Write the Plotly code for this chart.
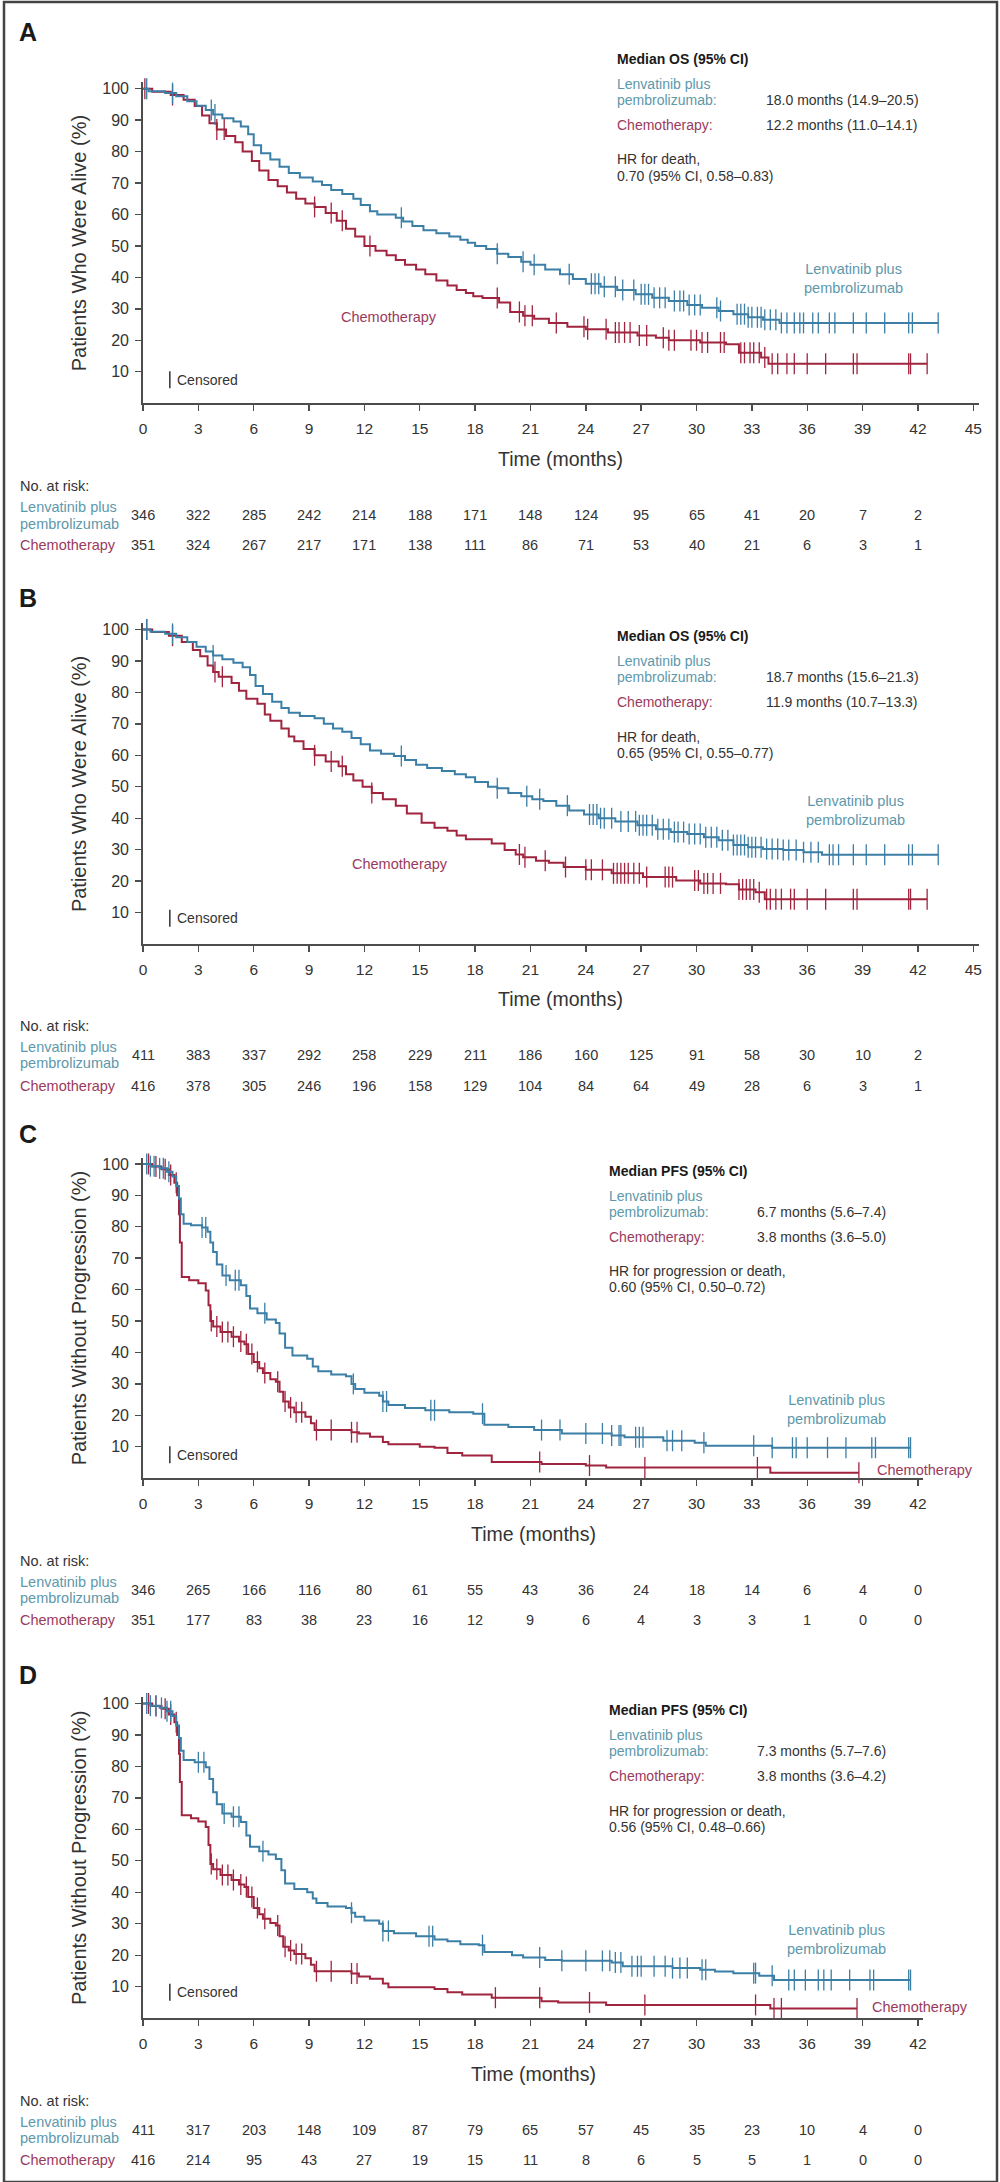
import numpy as np
import plotly.graph_objects as go

W, H = 1000, 2182
FONT = "Liberation Sans, Arial, Helvetica, sans-serif"
BLUE = "#3b7ea6"
RED = "#a1243f"
BLUE_TXT = "#5d98ab"
RED_TXT = "#9a3a5c"
DARK = "#333333"
AXIS = "#4d4d4d"

# ---------------- data ----------------
os_ticks = [0, 3, 6, 9, 12, 15, 18, 21, 24, 27, 30, 33, 36, 39, 42, 45]
pfs_ticks = [0, 3, 6, 9, 12, 15, 18, 21, 24, 27, 30, 33, 36, 39, 42]
risk_times = [0, 3, 6, 9, 12, 15, 18, 21, 24, 27, 30, 33, 36, 39, 42]
y_ticks = [10, 20, 30, 40, 50, 60, 70, 80, 90, 100]

# Panel A (OS, pMMR)
a_lenv_t = [0, 0.3, 1.2, 1.8, 2.4, 2.9, 3.4, 3.8, 4.3, 4.9, 5.3, 5.7, 6.0, 6.4, 6.9, 7.4, 7.9, 8.5, 9.2, 9.7,
            10.2, 10.8, 11.4, 11.8, 12.3, 12.7, 13.7, 14.1, 14.6, 15.2, 15.9, 16.6, 17.2, 17.6, 18.0, 18.6,
            19.2, 19.8, 20.5, 21.0, 21.8, 22.6, 23.3, 24.0, 24.8, 25.7, 26.7, 27.6, 28.5, 29.5, 30.3, 31.2,
            32.0, 32.8, 33.6, 34.5, 43.1]
a_lenv_s = [100, 99.2, 98.6, 97.6, 96, 94.6, 93.2, 91.8, 90.6, 89.6, 88, 85.5, 82, 79.5, 77.5, 75.2, 73.2, 71.8,
            70.5, 69.4, 67.8, 66.5, 65, 63, 61, 60, 59, 57.8, 56.3, 55, 54, 53, 52, 51, 50, 49, 47.5, 46.5, 45,
            44, 42.5, 41, 39.5, 38, 37, 36, 34.6, 33.5, 32.5, 31.2, 30.3, 29.3, 28.3, 27.3, 26.5, 25.5, 25.5]
a_chemo_t = [0, 0.5, 1.5, 2.2, 2.8, 3.2, 3.6, 4.0, 4.5, 5.0, 5.4, 5.9, 6.3, 6.8, 7.3, 7.8, 8.3, 8.8, 9.3, 9.9,
             10.5, 11.0, 11.5, 12.0, 12.6, 13.2, 13.7, 14.2, 14.8, 15.3, 15.9, 16.5, 17.0, 17.5, 17.9, 18.4,
             19.3, 19.9, 20.6, 21.2, 22.0, 23.0, 24.0, 25.2, 26.8, 27.8, 28.5, 30.2, 31.6, 32.3, 33.5, 33.9, 42.5]
a_chemo_s = [100, 99, 98, 96.5, 94.5, 91.5, 89, 87, 85, 83, 80, 77, 74, 71, 69, 67, 65, 63.5, 62.4, 60.5, 58,
             55.5, 53, 50, 48.5, 47, 45.5, 44, 42.5, 41, 39, 37.4, 36, 35, 34, 33.4, 32, 29, 27.8, 26.8, 25.5,
             24.3, 23.5, 22.5, 21.5, 20.8, 20, 19.3, 18.7, 16, 14.5, 12.5, 12.5]
a_lenv_cens = [0.2, 1.6, 3.7, 3.9, 14.0, 19.2, 20.6, 21.2, 23.1, 24.3, 24.5, 24.7, 25.0, 25.6, 26.0, 26.6, 27.0,
               27.2, 27.4, 27.7, 28.0, 28.3, 28.8, 29.1, 29.3, 29.6, 29.9, 30.2, 31.1, 31.3, 32.2, 32.4, 32.6,
               32.8, 33.0, 33.3, 33.5, 33.7, 34.0, 34.3, 34.6, 34.9, 35.3, 35.6, 35.8, 36.3, 36.6, 37.2, 37.5,
               38.5, 39.2, 40.2, 41.5, 41.7, 43.1]
a_chemo_cens = [0.1, 1.6, 4.0, 4.4, 9.3, 10.2, 10.8, 12.3, 19.2, 20.4, 20.7, 21.1, 22.4, 23.9, 24.1, 25.1,
                25.6, 25.8, 26.1, 26.4, 26.9, 27.3, 28.2, 28.5, 28.8, 29.7, 30.0, 30.3, 30.6, 31.3, 31.5, 32.4,
                32.6, 32.9, 33.1, 33.4, 33.7, 34.1, 34.4, 34.9, 35.3, 36.0, 37.0, 38.5, 38.7, 41.5, 41.6, 42.5]
a_risk_lenv = [346, 322, 285, 242, 214, 188, 171, 148, 124, 95, 65, 41, 20, 7, 2]
a_risk_chemo = [351, 324, 267, 217, 171, 138, 111, 86, 71, 53, 40, 21, 6, 3, 1]

# Panel B (OS, all-comers)
b_lenv_t = [0, 0.4, 1.2, 1.8, 2.4, 2.9, 3.4, 3.8, 4.3, 4.9, 5.4, 5.8, 6.1, 6.5, 7.0, 7.5, 7.9, 8.5, 9.3, 9.8,
            10.3, 10.8, 11.3, 11.8, 12.3, 12.9, 13.6, 14.2, 14.8, 15.4, 16.2, 16.9, 17.5, 18.0, 18.7, 19.2,
            19.8, 20.5, 21.1, 21.7, 22.4, 23.1, 23.9, 24.7, 25.6, 26.8, 27.8, 28.6, 29.5, 30.4, 31.2, 32.0,
            32.8, 33.6, 34.7, 35.8, 36.8, 43.1]
b_lenv_s = [100, 99.3, 98.6, 97.5, 96, 94.5, 93, 91.7, 90.5, 89.4, 88, 85.5, 82, 79.5, 77, 75, 73.5, 72.5, 71.8,
            70, 68.5, 67.5, 65.5, 63.5, 61.5, 60.5, 59.8, 58.5, 57, 56, 55, 54, 53, 51.5, 50, 49.5, 48, 47, 46,
            45.5, 44, 42.5, 41.2, 40, 39, 37.8, 36.5, 35.6, 35, 34, 33, 31.5, 30.8, 30.2, 29.9, 29.2, 28.4, 28.4]
b_chemo_t = [0, 0.5, 1.4, 2.1, 2.7, 3.1, 3.5, 3.8, 4.1, 4.8, 5.2, 5.6, 6.2, 6.6, 6.9, 7.5, 7.9, 8.2, 8.7, 9.3,
             9.9, 10.6, 11.0, 11.4, 11.9, 12.4, 13.0, 13.7, 14.3, 15.1, 15.8, 16.5, 17.0, 17.5, 18.9, 19.6,
             20.2, 20.6, 21.3, 22.0, 22.8, 24.0, 25.4, 27.1, 28.9, 30.2, 31.6, 32.3, 33.2, 33.7, 42.5]
b_chemo_s = [100, 99.2, 98, 96, 93.5, 91.5, 88.5, 86.5, 85, 83, 80.5, 78, 76.4, 73, 71, 68.5, 66, 64.5, 62, 60,
             58, 56.5, 54, 52, 50, 48, 46, 44, 41.5, 38.6, 37, 36, 34.5, 33.3, 32, 29.9, 28.5, 27.6, 26.5, 25.9,
             24.5, 23.6, 22.5, 21.3, 20.2, 19.3, 19.0, 17.4, 16.5, 14.3, 14.3]
b_lenv_cens = [0.2, 1.6, 3.8, 14.0, 19.2, 20.8, 21.5, 23.0, 24.2, 24.4, 24.6, 24.8, 25.0, 25.4, 25.9, 26.3, 26.7,
               26.9, 27.1, 27.3, 27.6, 27.9, 28.2, 28.5, 28.8, 29.0, 29.3, 29.6, 29.9, 30.2, 30.5, 30.8, 31.1,
               31.4, 31.7, 32.0, 32.2, 32.4, 32.6, 32.8, 33.0, 33.2, 33.5, 33.8, 34.1, 34.4, 34.7, 35.0, 35.4,
               35.8, 36.2, 36.6, 37.2, 37.4, 37.7, 38.5, 39.2, 40.2, 41.5, 41.7, 43.1]
b_chemo_cens = [0.2, 1.6, 3.9, 4.3, 9.3, 10.2, 10.8, 12.4, 20.4, 20.7, 21.8, 22.9, 24.0, 24.3, 24.9, 25.5, 25.7,
                25.9, 26.1, 26.3, 26.6, 26.9, 27.3, 28.3, 28.5, 28.7, 29.9, 30.1, 30.4, 30.6, 30.9, 31.3, 32.3,
                32.5, 32.7, 32.9, 33.1, 33.4, 33.8, 34.0, 34.3, 34.6, 35.1, 35.3, 36.0, 37.0, 38.5, 38.7, 41.5,
                41.6, 42.5]
b_risk_lenv = [411, 383, 337, 292, 258, 229, 211, 186, 160, 125, 91, 58, 30, 10, 2]
b_risk_chemo = [416, 378, 305, 246, 196, 158, 129, 104, 84, 64, 49, 28, 6, 3, 1]

# Panel C (PFS, pMMR)
c_lenv_t = [0, 0.4, 0.9, 1.3, 1.6, 1.8, 1.95, 2.05, 2.2, 2.6, 3.2, 3.5, 3.65, 3.8, 4.0, 4.3, 4.7, 5.3, 5.6, 5.8,
            6.2, 6.7, 7.2, 7.4, 7.7, 8.1, 8.9, 9.2, 9.5, 10.2, 11.0, 11.3, 11.5, 12.0, 12.8, 13.0, 13.3, 14.2,
            15.3, 16.6, 17.9, 18.5, 19.8, 21.2, 22.7, 25.4, 26.1, 28.2, 29.9, 30.5, 34.1, 41.6]
c_lenv_s = [100, 99.3, 98.6, 97.5, 96, 93, 89, 84, 81, 80.5, 79.8, 78.4, 75, 72, 68, 64.5, 63, 61.4, 58, 54,
            52.5, 50.5, 49.4, 46, 41.5, 39, 38, 35.5, 34, 33, 32.4, 30, 28.4, 27.2, 26.2, 24.4, 23.3, 22.3, 21.6,
            21.0, 20.5, 17, 16.3, 15.3, 14.2, 13.6, 13.0, 11.9, 11.3, 10.3, 9.7, 9.7]
c_chemo_t = [0, 0.5, 1.0, 1.4, 1.7, 1.85, 1.95, 2.0, 2.1, 2.5, 3.0, 3.4, 3.55, 3.65, 3.8, 4.2, 4.8, 5.2, 5.5,
             5.7, 6.0, 6.3, 6.5, 6.9, 7.2, 7.4, 7.6, 7.9, 8.2, 8.8, 9.1, 9.3, 11.3, 11.7, 12.3, 13.0, 13.3,
             15.0, 15.8, 16.5, 17.3, 18.9, 21.6, 24.0, 25.1, 34.0, 38.8]
c_chemo_s = [100, 99.2, 98.3, 96.5, 94, 90, 84, 75, 64, 63, 62, 59.7, 55, 50, 48.3, 46.5, 45, 43.5, 42.6, 39.5,
             37, 35, 33.5, 31.5, 30.7, 27.5, 24.4, 22.5, 21, 19.5, 17.5, 15.3, 14.6, 14.2, 13.2, 11.5, 10.8,
             10.0, 9.7, 8.0, 7.2, 5.1, 4.5, 4.0, 3.4, 1.7, 1.7]
c_lenv_cens = [0.2, 0.4, 0.6, 0.9, 1.1, 1.4, 3.2, 3.4, 4.5, 5.0, 5.2, 6.6, 11.4, 13.0, 13.2, 15.6, 15.8, 18.4,
               21.6, 22.6, 24.0, 24.9, 25.4, 25.8, 25.9, 26.7, 26.9, 27.1, 28.4, 28.7, 29.2, 30.4, 33.1, 34.1,
               35.2, 35.4, 36.0, 37.1, 38.1, 39.5, 39.7, 41.5, 41.6]
c_chemo_cens = [0.3, 0.7, 1.2, 1.5, 1.8, 3.7, 4.0, 4.3, 4.6, 4.9, 5.3, 5.6, 5.9, 6.2, 6.6, 7.3, 7.7, 8.0, 8.3,
                8.6, 9.4, 10.2, 11.3, 11.6, 21.5, 24.2, 27.2, 33.3, 38.8]
c_risk_lenv = [346, 265, 166, 116, 80, 61, 55, 43, 36, 24, 18, 14, 6, 4, 0]
c_risk_chemo = [351, 177, 83, 38, 23, 16, 12, 9, 6, 4, 3, 3, 1, 0, 0]

# Panel D (PFS, all-comers)
d_lenv_t = [0, 0.4, 0.9, 1.3, 1.6, 1.8, 1.95, 2.05, 2.2, 2.8, 3.4, 3.6, 3.8, 4.0, 4.3, 4.8, 5.3, 5.6, 5.8, 6.3,
            6.8, 7.2, 7.5, 7.7, 8.2, 8.9, 9.2, 9.4, 10.0, 11.0, 11.3, 11.5, 12.0, 12.8, 13.0, 13.6, 14.8, 15.8,
            16.5, 17.2, 18.2, 18.5, 20.0, 20.6, 21.8, 22.7, 25.4, 26.0, 28.7, 30.2, 31.0, 32.0, 33.4, 34.2, 41.6]
d_lenv_s = [100, 99.3, 98.6, 97.5, 96, 93, 89, 85, 82, 81.3, 79.7, 76, 71.8, 68, 65, 64, 62.3, 58, 54.5, 53, 52,
            50.6, 47, 42.8, 41, 40, 38, 36.6, 35.5, 35, 33.5, 32.2, 31, 30, 27.7, 27, 26, 25, 24.4, 23.5, 23.2,
            21, 20, 19.3, 18.5, 18.2, 17.7, 16.5, 15.9, 15.4, 14.8, 14.3, 13.5, 12.1, 12.1]
d_chemo_t = [0, 0.5, 1.0, 1.4, 1.7, 1.85, 1.95, 2.0, 2.1, 2.6, 3.0, 3.4, 3.55, 3.65, 3.8, 4.2, 4.8, 5.2, 5.5,
             5.7, 6.0, 6.3, 6.5, 6.9, 7.2, 7.4, 7.6, 7.9, 8.2, 8.8, 9.1, 9.3, 11.3, 11.7, 12.3, 13.0, 13.3,
             15.8, 16.5, 17.3, 18.9, 21.6, 22.5, 25.1, 34.0, 38.7]
d_chemo_s = [100, 99.2, 98.3, 96.5, 94, 90, 84, 75, 64.5, 63.5, 62.5, 60.7, 55, 49, 47.3, 45.5, 43.9, 42.5, 41.7,
             38.5, 35, 33, 31.6, 30.2, 29.4, 26, 22.7, 21.5, 20.4, 19, 17, 14.9, 14.2, 13.2, 12.5, 11, 9.8, 9.3,
             8.2, 7.5, 6.5, 5.4, 5.0, 4.2, 3.1, 3.1]
d_lenv_cens = [0.2, 0.4, 0.7, 1.0, 1.3, 1.5, 3.0, 3.3, 4.4, 4.9, 5.2, 6.5, 11.3, 13.0, 13.3, 15.5, 15.7, 18.4,
               21.5, 22.7, 24.0, 24.9, 25.3, 25.6, 25.9, 26.5, 26.8, 27.0, 27.7, 28.3, 28.7, 29.1, 29.5, 30.3,
               30.5, 33.1, 33.2, 34.1, 35.0, 35.3, 35.9, 36.6, 36.9, 37.3, 38.3, 39.4, 39.6, 41.5, 41.6]
d_chemo_cens = [0.3, 0.7, 1.2, 1.5, 1.8, 3.7, 4.0, 4.3, 4.6, 4.9, 5.3, 5.6, 5.9, 6.2, 6.6, 7.3, 7.7, 8.0, 8.3,
                8.6, 9.4, 10.2, 11.3, 11.6, 19.1, 21.5, 24.2, 27.2, 33.2, 34.2, 34.6, 38.7]
d_risk_lenv = [411, 317, 203, 148, 109, 87, 79, 65, 57, 45, 35, 23, 10, 4, 0]
d_risk_chemo = [416, 214, 95, 43, 27, 19, 15, 11, 8, 6, 5, 5, 1, 0, 0]

# ---------------- layout helpers ----------------
def px(x):
    return x / W

def py(y):
    return 1 - y / H

def step_at(t, s, c):
    t = np.asarray(t, float)
    s = np.asarray(s, float)
    idx = np.searchsorted(t, np.asarray(c, float), side="right") - 1
    idx = np.clip(idx, 0, len(s) - 1)
    return s[idx]

panels = [
    dict(letter="A", letter_y=30, y0=401.5, y100=86.8, xmax=45.3, ticks=os_ticks,
         lenv=(a_lenv_t, a_lenv_s, a_lenv_cens), chemo=(a_chemo_t, a_chemo_s, a_chemo_cens),
         risk=(a_risk_lenv, a_risk_chemo),
         ytitle="Patients Who Were Alive (%)",
         box_x=615, val_x=765, box=[57, 82, 98, 123, 157, 174],
         box_title="Median OS (95% CI)", lenv_val="18.0 months (14.9–20.5)", chemo_val="12.2 months (11.0–14.1)",
         hr1="HR for death,", hr2="0.70 (95% CI, 0.58–0.83)",
         lab_lenv=(35.7, 39.5), lab_chemo=(13.35, 27.5, "center"), cens_y=378,
         time_y=457, risk_y=(484, 505, 522, 513.5, 543)),
    dict(letter="B", letter_y=597, y0=943, y100=628, xmax=45.3, ticks=os_ticks,
         lenv=(b_lenv_t, b_lenv_s, b_lenv_cens), chemo=(b_chemo_t, b_chemo_s, b_chemo_cens),
         risk=(b_risk_lenv, b_risk_chemo),
         ytitle="Patients Who Were Alive (%)",
         box_x=615, val_x=765, box=[635, 660, 676, 701, 736, 752],
         box_title="Median OS (95% CI)", lenv_val="18.7 months (15.6–21.3)", chemo_val="11.9 months (10.7–13.3)",
         hr1="HR for death,", hr2="0.65 (95% CI, 0.55–0.77)",
         lab_lenv=(35.8, 42.4), lab_chemo=(13.95, 25.5, "center"), cens_y=917,
         time_y=998, risk_y=(1025, 1046, 1062, 1054, 1085)),
    dict(letter="C", letter_y=1133, y0=1477.5, y100=1163, xmax=42.3, ticks=pfs_ticks,
         lenv=(c_lenv_t, c_lenv_s, c_lenv_cens), chemo=(c_chemo_t, c_chemo_s, c_chemo_cens),
         risk=(c_risk_lenv, c_risk_chemo),
         ytitle="Patients Without Progression (%)",
         box_x=607, val_x=756, box=[1170, 1195, 1211, 1236, 1270, 1286],
         box_title="Median PFS (95% CI)", lenv_val="6.7 months (5.6–7.4)", chemo_val="3.8 months (3.6–5.0)",
         hr1="HR for progression or death,", hr2="0.60 (95% CI, 0.50–0.72)",
         lab_lenv=(34.8, 21.7), lab_chemo=(39.7, 2.7, "left"), cens_y=1454,
         time_y=1533, risk_y=(1560, 1581, 1597, 1589, 1619)),
    dict(letter="D", letter_y=1675, y0=2018, y100=1703, xmax=42.3, ticks=pfs_ticks,
         lenv=(d_lenv_t, d_lenv_s, d_lenv_cens), chemo=(d_chemo_t, d_chemo_s, d_chemo_cens),
         risk=(d_risk_lenv, d_risk_chemo),
         ytitle="Patients Without Progression (%)",
         box_x=607, val_x=756, box=[1710, 1735, 1751, 1776, 1811, 1827],
         box_title="Median PFS (95% CI)", lenv_val="7.3 months (5.7–7.6)", chemo_val="3.8 months (3.6–4.2)",
         hr1="HR for progression or death,", hr2="0.56 (95% CI, 0.48–0.66)",
         lab_lenv=(34.8, 25.0), lab_chemo=(39.4, 3.5, "left"), cens_y=1992,
         time_y=2074, risk_y=(2101, 2122, 2138, 2130, 2160)),
]

X0 = 140.0
PX_PER_MONTH = 18.58

fig = go.Figure()
annotations = []
shapes = []
layout_axes = {}

def ann(text, x, y, size=14, color=DARK, xanchor="left", yanchor="middle", xref="paper", yref="paper",
        bold=False, textangle=0):
    if bold:
        text = "<b>" + text + "</b>"
    annotations.append(dict(text=text, x=x, y=y, xref=xref, yref=yref, xanchor=xanchor, yanchor=yanchor,
                            showarrow=False, textangle=textangle,
                            font=dict(family=FONT, size=size, color=color)))

for i, p in enumerate(panels, start=1):
    xa = "x" if i == 1 else f"x{i}"
    ya = "y" if i == 1 else f"y{i}"
    unit = (p["y0"] - p["y100"]) / 100.0
    ytop = p["y0"] - 102 * unit
    xend = X0 + p["xmax"] * PX_PER_MONTH
    layout_axes["xaxis" if i == 1 else f"xaxis{i}"] = dict(
        domain=[px(X0), px(xend)], range=[0, p["xmax"]], anchor=ya,
        tickvals=p["ticks"], ticktext=[str(v) for v in p["ticks"]],
        showline=True, linecolor=AXIS, linewidth=1.8, ticks="outside", ticklen=6, tickwidth=1.4,
        tickcolor=AXIS, showgrid=False, zeroline=False, ticklabelstandoff=4,
        tickfont=dict(family=FONT, size=15.5, color=DARK), fixedrange=True)
    layout_axes["yaxis" if i == 1 else f"yaxis{i}"] = dict(
        domain=[py(p["y0"]), py(ytop)], range=[0, 102], anchor=xa,
        tickvals=y_ticks, ticktext=[str(v) for v in y_ticks],
        showline=True, linecolor=AXIS, linewidth=1.8, ticks="outside", ticklen=6, tickwidth=1.4,
        tickcolor=AXIS, showgrid=False, zeroline=False, ticklabelstandoff=3,
        tickfont=dict(family=FONT, size=16, color=DARK), fixedrange=True)

    for (t, s, cens), col in ((p["chemo"], RED), (p["lenv"], BLUE)):
        fig.add_trace(go.Scatter(x=t, y=s, mode="lines", line=dict(shape="hv", color=col, width=2),
                                 xaxis=xa, yaxis=ya, showlegend=False, hoverinfo="skip"))
        fig.add_trace(go.Scatter(x=cens, y=step_at(t, s, cens), mode="markers",
                                 marker=dict(symbol="line-ns", size=15, color=col,
                                             line=dict(width=1.3, color=col)),
                                 xaxis=xa, yaxis=ya, showlegend=False, hoverinfo="skip", cliponaxis=False))

    # panel letter
    ann(p["letter"], px(24), py(p["letter_y"]), size=25, color="#1a1a1a", xanchor="center", bold=True)
    # y title
    ann(p["ytitle"], px(75), py((p["y0"] + ytop) / 2), size=20, color=DARK, xanchor="center",
        textangle=-90)
    # x title
    ann("Time (months)", px((X0 + xend) / 2), py(p["time_y"]), size=19.5, color=DARK, xanchor="center")

    # summary box
    b = p["box"]
    ann(p["box_title"], px(p["box_x"]), py(b[0]), size=14, color="#1a1a1a", bold=True)
    ann("Lenvatinib plus", px(p["box_x"]), py(b[1]), size=14, color=BLUE_TXT)
    ann("pembrolizumab:", px(p["box_x"]), py(b[2]), size=14, color=BLUE_TXT)
    ann(p["lenv_val"], px(p["val_x"]), py(b[2]), size=14, color=DARK)
    ann("Chemotherapy:", px(p["box_x"]), py(b[3]), size=14, color=RED_TXT)
    ann(p["chemo_val"], px(p["val_x"]), py(b[3]), size=14, color=DARK)
    ann(p["hr1"], px(p["box_x"]), py(b[4]), size=14, color=DARK)
    ann(p["hr2"], px(p["box_x"]), py(b[5]), size=14, color=DARK)

    # in-plot curve labels
    lx, ly = p["lab_lenv"]
    ann("Lenvatinib plus<br>pembrolizumab", lx, ly, size=14.5, color=BLUE_TXT, xref=xa, yref=ya)
    cx, cy, canchor = p["lab_chemo"]
    ann("Chemotherapy", cx, cy, size=14.5, color=RED_TXT, xref=xa, yref=ya, xanchor=canchor)

    # censored key
    shapes.append(dict(type="line", xref="paper", yref="paper", x0=px(167), x1=px(167),
                       y0=py(p["cens_y"] - 8.5), y1=py(p["cens_y"] + 8.5),
                       line=dict(color=DARK, width=1.5)))
    ann("Censored", px(172), py(p["cens_y"]), size=14, color=DARK)

    # risk table
    r0, rl1, rl2, rnum, rc = p["risk_y"]
    ann("No. at risk:", px(14), py(r0), size=14.5, color=DARK)
    ann("Lenvatinib plus", px(14), py(rl1), size=14.5, color=BLUE_TXT)
    ann("pembrolizumab", px(14), py(rl2), size=14.5, color=BLUE_TXT)
    ann("Chemotherapy", px(14), py(rc), size=14.5, color=RED_TXT)
    rl, rch = p["risk"]
    for tt, v in zip(risk_times, rl):
        ann(str(v), tt, py(rnum), size=14.5, color=DARK, xanchor="center", xref=xa)
    for tt, v in zip(risk_times, rch):
        ann(str(v), tt, py(rc), size=14.5, color=DARK, xanchor="center", xref=xa)

# outer frame
shapes.append(dict(type="rect", xref="paper", yref="paper", x0=0, x1=1, y0=0, y1=1,
                   line=dict(color="#444444", width=2.5)))

fig.update_layout(width=W, height=H, margin=dict(l=0, r=0, t=0, b=0), paper_bgcolor="white",
                  plot_bgcolor="white", showlegend=False, annotations=annotations, shapes=shapes,
                  font=dict(family=FONT, color=DARK), **layout_axes)

fig.write_html("out.html", config={"displayModeBar": False, "staticPlot": True},
               post_script="document.body.style.margin='0px';")
